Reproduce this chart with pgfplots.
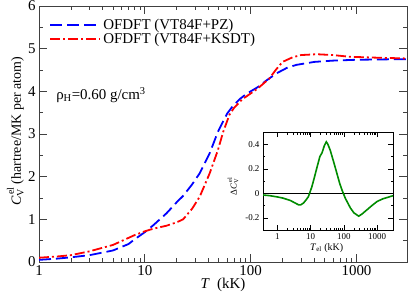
\documentclass[border=0pt]{standalone}
\usepackage{fontspec}
\setmainfont{Liberation Serif}
\usepackage{pgfplots}
\pgfplotsset{compat=1.18}
\definecolor{mygreen}{RGB}{0,140,0}
\newcommand{\CV}[1]{\textit{C}\rlap{\raisebox{-0.4ex}{\fontsize{#1}{#1}\selectfont V}}\raisebox{1.1ex}{\fontsize{#1}{#1}\selectfont\,el}}
\begin{document}
\begin{tikzpicture}
\begin{axis}[
  name=main, at={(0,0)}, anchor=south west,
  scale only axis, width=368bp, height=256bp,
  xmode=log, xmin=1, xmax=3000, ymin=0, ymax=6,
  xtick={1,10,100,1000}, xticklabels={1,10,100,1000},
  ytick={0,1,2,3,4,5,6}, yticklabels={0,1,2,3,4,5,6},
  minor y tick num=1,
  tick align=inside, major tick length=8bp, minor tick length=4bp,
  axis line style={black!75, line width=0.9bp},
  every tick/.style={black!75, line width=0.7bp},
  ticklabel style={font=\fontsize{15}{17}\selectfont},
  /pgf/number format/assume math mode=true,
  xlabel={\textit{T}\ \ (kK)},
  xlabel style={font=\fontsize{15}{17}\selectfont, at={(axis description cs:0.5,-0.09)}, anchor=center},
  ylabel={\CV{10} (hartree/MK per atom)},
  ylabel style={font=\fontsize{14}{16}\selectfont, at={(axis description cs:-0.064,0.51)}, anchor=center},
  legend style={draw=none, fill=none, at={(axis description cs:0.02,0.965)}, anchor=north west,
    font=\fontsize{15}{17}\selectfont, row sep=-2pt},
  legend cell align=left,
  legend image code/.code={\draw[#1] (0bp,0bp) -- (50bp,0bp);},
]
\addplot[blue, line width=1.8bp, dash pattern=on 12bp off 5bp] coordinates {
(1,0.05) (1.5,0.08) (2,0.11) (3,0.16) (5,0.27) (7,0.42) (8,0.53) (10,0.70)
(12,0.86) (16,1.14) (20,1.40) (23,1.55) (28,1.82) (33,2.08) (41,2.55) (49,3.05)
(55,3.30) (60,3.48) (68,3.66) (79,3.82) (90,3.93) (100,4.00) (117,4.10) (140,4.25)
(175,4.42) (220,4.55) (270,4.62) (400,4.69) (600,4.72) (1000,4.74) (2000,4.75) (3000,4.75)
};
\addlegendentry{OFDFT (VT84F+PZ)}
\addplot[red, line width=1.8bp, dash pattern=on 10bp off 3bp on 2bp off 3bp] coordinates {
(1,0.10) (1.5,0.13) (2,0.16) (3,0.25) (5,0.40) (8,0.63) (10,0.72) (12,0.78)
(16,0.85) (20,0.93) (23,1.00) (28,1.25) (33,1.53) (41,2.08) (49,2.62) (55,3.05)
(63,3.45) (70,3.62) (84,3.82) (100,3.95) (117,4.07) (150,4.30) (175,4.52) (200,4.69)
(250,4.80) (300,4.85) (420,4.87) (600,4.85) (860,4.81) (1500,4.79) (3000,4.77)
};
\addlegendentry{OFDFT (VT84F+KSDT)}
\node[anchor=west, font=\fontsize{15}{17}\selectfont, inner sep=0pt] at (axis cs:1.45,3.91)
  {ρ\textsubscript{H}=0.60 g/cm\textsuperscript{3}};
\end{axis}
\begin{axis}[
  at={(224bp,32bp)}, anchor=south west,
  scale only axis, width=130bp, height=98bp,
  xmode=log, xmin=0.37, xmax=3000, ymin=-0.3, ymax=0.5,
  xtick={1,10,100,1000}, xticklabels={1,10,100,1000},
  ytick={-0.2,0,0.2,0.4}, yticklabels={-0.2,0,0.2,0.4},
  minor y tick num=1,
  axis background/.style={fill=white},
  tick align=inside, major tick length=5bp, minor tick length=2.5bp,
  axis line style={black, line width=0.7bp},
  every tick/.style={black, line width=0.5bp},
  ticklabel style={font=\fontsize{9}{11}\selectfont},
  /pgf/number format/assume math mode=true,
  xlabel={\textit{T}\textsubscript{el} (kK)},
  xlabel style={font=\fontsize{10}{12}\selectfont, at={(axis description cs:0.49,-0.18)}, anchor=center},
  ylabel={Δ\CV{6.5}},
  ylabel style={font=\fontsize{9}{11}\selectfont, at={(axis description cs:-0.23,0.44)}, anchor=center},
]
\addplot[black, line width=0.7bp] coordinates {(0.37,0) (3000,0)};
\addplot[mygreen, line width=1.6bp] coordinates {
(0.37,-0.014) (0.6,-0.02) (1,-0.03) (1.5,-0.04) (2.5,-0.06) (4.3,-0.094) (5,-0.095)
(6.1,-0.08) (7.5,-0.05) (8.6,-0.027) (10.9,0.053) (13,0.13) (15.5,0.21) (19,0.30)
(22,0.33) (26,0.39) (29.6,0.42) (33,0.40) (39,0.35) (50,0.25) (62,0.16) (75,0.08)
(88,0.026) (110,-0.04) (157,-0.12) (200,-0.16) (280,-0.187) (350,-0.17) (500,-0.134)
(700,-0.1) (1000,-0.067) (1500,-0.045) (2000,-0.035) (3000,-0.02)
};
\end{axis}
\pgfresetboundingbox
\path[use as bounding box] (-39bp,-34bp) rectangle (370bp,262bp);
\end{tikzpicture}
\end{document}
